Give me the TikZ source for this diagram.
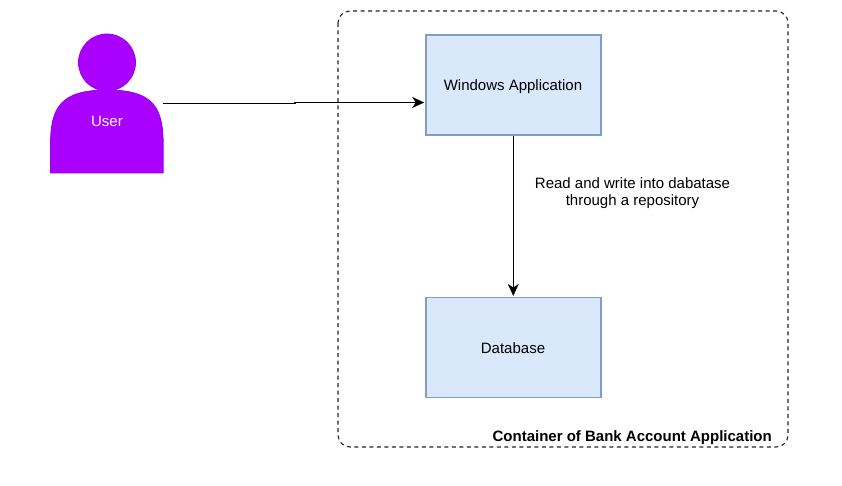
\documentclass[tikz,border=0pt]{standalone}
\usepackage{fontspec}
\setmainfont{Liberation Sans}
\usetikzlibrary{arrows.meta}
\definecolor{boxfill}{HTML}{DAE8FC}
\definecolor{boxline}{HTML}{7F9CCB}
\definecolor{userfill}{HTML}{AA00FF}
\definecolor{userline}{HTML}{9A00E6}
\tikzset{
  apptext/.style={font=\fontsize{15}{17}\selectfont,text=black,align=center},
  appbox/.style={draw=boxline,fill=boxfill,line width=1.5pt,minimum width=175pt,minimum height=100pt,inner sep=0pt},
  usershape/.style={fill=userfill,draw=userline,line width=0.8pt},
  conn/.style={draw=black,line width=1.1pt,shorten >=0.8pt,-{Stealth[length=12pt,width=11pt,inset=3.5pt]}},
  frame/.style={draw=black!85,line width=1.1pt,dash pattern=on 4pt off 3.5pt,rounded corners=12pt}
}
\begin{document}
\begin{tikzpicture}[x=1pt,y=-1pt]
\useasboundingbox (0,0) rectangle (842,486);
\fill[white] (0,0) rectangle (842,486);
% container
\draw[frame] (338,11) rectangle (788,447);
\node[anchor=east,font=\fontsize{15}{17}\selectfont\bfseries,inner sep=0pt] (title) at (772,437.5) {Container of Bank Account Application};
% user
\node[minimum width=113pt,minimum height=139pt,inner sep=0pt] (user) at (106.75,103.5) {};
\draw[usershape] (107,62.5) circle[radius=28.5];
\draw[usershape] (50.5,173) -- (50.5,145) .. controls (50.5,108) and (60,90) .. (107,90) .. controls (154,90) and (163.2,108) .. (163.2,145) -- (163.2,173) -- cycle;
\node[apptext,text=white,inner sep=0pt] (userlabel) at (107,121.5) {User};
% boxes
\node[appbox] (win) at (513.25,85) {};
\node[appbox] (db) at (513.25,347.5) {};
\node[apptext,inner sep=0pt] (wintext) at (513,86.5) {Windows Application};
\node[apptext,inner sep=0pt] (dbtext) at (513,348.5) {Database};
% connectors
\coordinate (j1) at (295,103.5);
\coordinate (j2) at (295,102.5);
\draw[conn] (user.east) -- (j1) -- (j2) -- (win.west |- j2);
\draw[conn] (win.south) -- (db.north);
\node[apptext,inner sep=0pt] (rw) at (632.5,193) {Read and write into dabatase\\through a repository};
\end{tikzpicture}
\end{document}
